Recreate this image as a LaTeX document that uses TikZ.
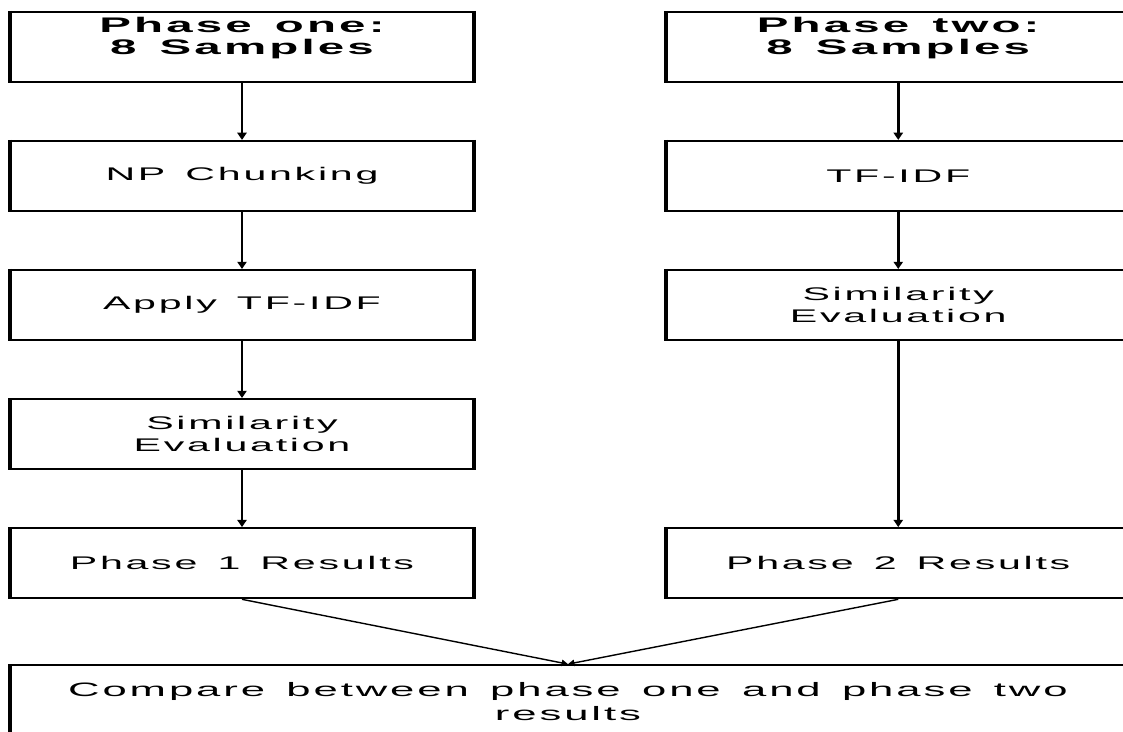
\documentclass[tikz,border=0pt]{standalone}
\usepackage{fontspec}
\setmainfont{Liberation Sans}
\newfontfamily\boxfont[FakeStretch=2.25, LetterSpace=15]{Liberation Sans}
\usetikzlibrary{positioning,arrows.meta}

\begin{document}
\begin{tikzpicture}[
  stage/.style={draw=black, line width=1.6pt, minimum width=11.55cm, minimum height=1.75cm, text width=11.4cm, align=center, inner sep=0pt, font=\boxfont\fontsize{13}{15.5}\selectfont, execute at begin node={\spaceskip=1.1em\relax}},
  head/.style={stage, font=\boxfont\bfseries\fontsize{15}{15.6}\selectfont},
  flow/.style={-{Triangle[length=1.8mm,width=2.3mm]}, line width=1.8pt},
  merge/.style={-{Triangle[length=1.6mm,width=1.6mm]}, line width=1pt},
  node distance=1.42cm and 4.8cm]
\useasboundingbox (0,0) rectangle (28.075,-18.3);
% phase one
\node[head] (ph1) at (6.05,-1.175) {Phase one:\\8 Samples\\~};
\node[stage, below=of ph1] (chunk) {NP Chunking};
\node[stage, below=of chunk] (tfidf1) {Apply TF-IDF};
\node[stage, below=of tfidf1] (sim1) {Similarity\\Evaluation};
\node[stage, below=of sim1] (res1) {Phase 1 Results};
% phase two
\node[head, right=of ph1] (ph2) {Phase two:\\8 Samples\\~};
\node[stage, below=of ph2] (tfidf2) {TF-IDF};
\node[stage, below=of tfidf2] (sim2) {Similarity\\Evaluation};
\node[stage, right=of res1] (res2) {Phase 2 Results};
% comparison
\node[stage, minimum width=27.85cm, minimum height=1.8cm, text width=27cm, font=\boxfont\fontsize{13.8}{17}\selectfont, below=1.62cm of res1.south west, anchor=north west] (cmp) {Compare between phase one and phase two\\results};
% heavier side edges
\foreach \n in {ph1,chunk,tfidf1,sim1,res1,ph2,tfidf2,sim2,res2,cmp}
  \draw[line width=3pt] (\n.north west) -- (\n.south west) (\n.north east) -- (\n.south east);
\draw[flow] (ph1) -- (chunk);
\draw[flow] (chunk) -- (tfidf1);
\draw[flow] (tfidf1) -- (sim1);
\draw[flow] (sim1) -- (res1);
\draw[flow] (ph2) -- (tfidf2);
\draw[flow] (tfidf2) -- (sim2);
\draw[flow] (sim2) -- (res2);
\draw[merge] (res1.south) -- (cmp.north);
\draw[merge] (res2.south) -- (cmp.north);
\end{tikzpicture}
\end{document}
